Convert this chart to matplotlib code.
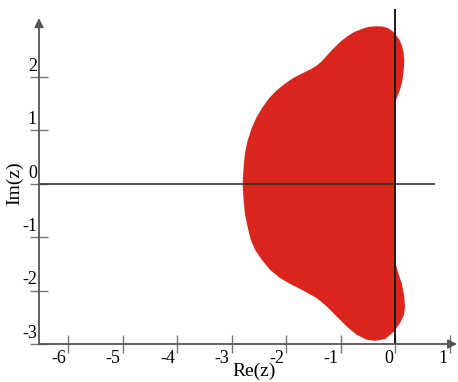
import numpy as np
import matplotlib.pyplot as plt

# boundary of the filled region (upper half, then lower half)
re_upper = [0.00, 0.05, 0.09, 0.12, 0.14, 0.155, 0.16, 0.15, 0.12, 0.07, 0.01, -0.05,
            -0.13, -0.25, -0.375, -0.498, -0.619, -0.742, -0.864, -0.986, -1.108,
            -1.231, -1.352, -1.443, -1.566, -1.718, -1.872, -2.024, -2.176, -2.311,
            -2.432, -2.542, -2.634, -2.71, -2.756, -2.78, -2.80]
im_upper = [1.54, 1.67, 1.78, 1.90, 2.04, 2.18, 2.32, 2.45, 2.58, 2.70, 2.78, 2.85,
            2.91, 2.945, 2.946, 2.934, 2.896, 2.846, 2.772, 2.678, 2.560,
            2.429, 2.290, 2.210, 2.135, 2.060, 1.979, 1.873, 1.747, 1.605,
            1.436, 1.249, 1.043, 0.80, 0.575, 0.35, 0.00]
re_lower = [-2.78, -2.756, -2.71, -2.652, -2.573, -2.451, -2.299, -2.115, -1.901,
            -1.658, -1.443, -1.260, -1.077, -0.894, -0.711, -0.527, -0.375, -0.192,
            -0.027, 0.082, 0.156, 0.174, 0.156, 0.113, 0.051, 0.00]
im_lower = [-0.35, -0.575, -0.80, -1.049, -1.236, -1.423, -1.610, -1.766, -1.891,
            -2.016, -2.141, -2.297, -2.485, -2.672, -2.828, -2.921, -2.940, -2.909,
            -2.766, -2.609, -2.453, -2.297, -2.079, -1.860, -1.673, -1.49]

xticks = [-6, -5, -4, -3, -2, -1, 0, 1]
yticks = [-3, -2, -1, 0, 1, 2]

plt.rcParams['font.family'] = 'Liberation Serif'

fig = plt.figure(figsize=(4.58, 3.82), dpi=100)
ax = fig.add_axes([39/458, 38/382, 419/458, 335/382])
ax.set_xlim(-6.53, 1.145)
ax.set_ylim(-3, 3.27)
for s in ax.spines.values():
    s.set_visible(False)

# region
ax.fill(re_upper + re_lower, im_upper + im_lower, color='#da251d', lw=0, zorder=1)

# reference lines through the origin
ax.hlines(0, -6.53, 0.72, color='#333333', lw=1.2, zorder=3)
ax.vlines(0, -3.16, 3.27, color='#1a1a1a', lw=1.4, zorder=3)

# axis lines with arrow heads
arr = dict(arrowstyle='-|>', color='#555555', lw=1.3, mutation_scale=13, shrinkA=0, shrinkB=0)
ax.annotate('', xy=(0.998, 0), xytext=(0, 0), xycoords='axes fraction', arrowprops=arr)
ax.annotate('', xy=(0, 0.973), xytext=(0, 0), xycoords='axes fraction', arrowprops=arr)

# ticks crossing the axes
ax.set_xticks(xticks)
ax.set_yticks(yticks)
ax.xaxis.set_ticks_position('bottom')
ax.yaxis.set_ticks_position('left')
ax.tick_params(direction='inout', length=13.5, width=1, color='#777777',
               labelbottom=False, labelleft=False)

for v in xticks:
    ax.annotate(str(v), xy=(v, -3), xytext=(-1.5, -4), textcoords='offset points',
                ha='right', va='top', fontsize=13)
for v in yticks:
    ax.annotate(str(v), xy=(-6.53, v), xytext=(-1.5, 1.5), textcoords='offset points',
                ha='right', va='bottom', fontsize=13)

fig.text(254/458, 1 - 363/382, 'Re(z)', ha='center', va='top', fontsize=14)
fig.text(15/458, 1 - 183/382, 'Im(z)', ha='center', va='center', rotation=90, fontsize=14)

fig.savefig('out.png', dpi=100)
